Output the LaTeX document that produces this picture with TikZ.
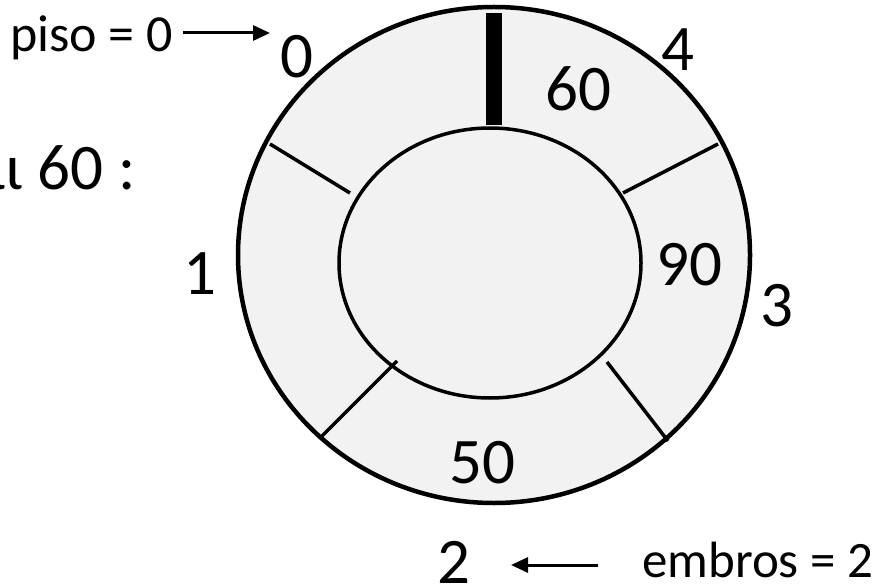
\documentclass[tikz,border=0pt]{standalone}
\usepackage{fontspec}
\setmainfont{Carlito}
\usetikzlibrary{arrows.meta}
\definecolor{ringgray}{HTML}{F2F2F2}
\tikzset{
  big/.style={font=\fontsize{65}{78}\selectfont, inner sep=0pt},
  mid/.style={font=\fontsize{51}{61}\selectfont, inner sep=0pt},
  small/.style={font=\fontsize{52}{62}\selectfont, inner sep=0pt},
  divider/.style={line width=3.5pt},
  ptr/.style={line width=3pt, -{Triangle[length=17pt,width=15pt]}},
}
\begin{document}
\begin{tikzpicture}[x=1pt,y=-1pt]
\useasboundingbox (0,0) rectangle (880,585);
\clip (0,0) rectangle (880,585);
% ring
\draw[line width=4.5pt, fill=ringgray] (494,255) ellipse [x radius=256, y radius=248];
\draw[line width=3.5pt, fill=ringgray] (490,263) ellipse [x radius=151, y radius=135];
% dividers
\draw[divider] (270,144) -- (350,193);
\draw[divider] (718,144) -- (623,193);
\draw[divider] (320,438) -- (397,361);
\draw[divider] (668,441) -- (607,362);
\fill[black] (486,13) rectangle (502,125);
% slot indices
\node[big] (i0) at (297,57) {0};
\node[big] (i4) at (678,50) {4};
\node[big] (i1) at (199.5,273.5) {1};
\node[big] (i3) at (777,306) {3};
\node[big] (i2) at (453.5,562) {2};
% values
\node[big] (v60) at (578,89) {60};
\node[big] (v90) at (689.5,265) {90};
\node[big] (v50) at (482,462.5) {50};
% side texts
\node[big, anchor=base east] (kai) at (136,190) {αι 60 :};
\node[small, anchor=base west] (piso) at (10,52) {piso = 0};
\node[mid, anchor=base west] (embros) at (642,577) {embros = 2};
% pointers
\coordinate (ptip) at (270,33);
\coordinate (etip) at (511,565);
\draw[ptr] ([xshift=10pt]piso.east |- ptip) -- (ptip);
\draw[ptr] ([xshift=-44pt]embros.west |- etip) -- (etip);
\end{tikzpicture}
\end{document}
